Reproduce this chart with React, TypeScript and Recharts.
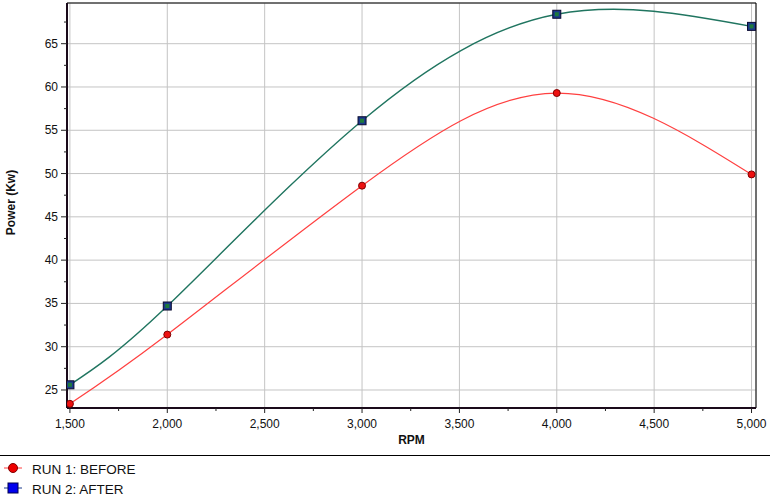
import {
  LineChart,
  Line,
  XAxis,
  YAxis,
  CartesianGrid,
  Legend,
  ReferenceArea,
  Label,
} from 'recharts';

// values
const rpm = [1500, 2000, 3000, 4000, 5000];
const runBefore = [23.4, 31.4, 48.6, 59.3, 49.9];
const runAfter = [25.6, 34.7, 56.1, 68.4, 67.0];

const xMajor = [1500, 2000, 2500, 3000, 3500, 4000, 4500, 5000];
const xMinor = [1750, 2250, 2750, 3250, 3750, 4250, 4750];
const yMajor = [25, 30, 35, 40, 45, 50, 55, 60, 65];
const yMinor = [27.5, 32.5, 37.5, 42.5, 47.5, 52.5, 57.5, 62.5, 67.5];

const xDomain: [number, number] = [1485, 5023];
const yDomain: [number, number] = [22.92, 69.7];

const chartData = rpm.map((r, i) => ({
  rpm: r,
  before: runBefore[i],
  after: runAfter[i],
}));

const XTick = (props: any) => {
  const { x, y, payload } = props;
  const major = payload.value % 500 === 0;
  return (
    <g>
      <line x1={x} x2={x} y1={y} y2={y + (major ? 5 : 3)} stroke="#222" />
      {major && (
        <text x={x} y={y + 20} textAnchor="middle" fontSize={12} fill="#111">
          {payload.value.toLocaleString('en-US')}
        </text>
      )}
    </g>
  );
};

const YTick = (props: any) => {
  const { x, y, payload } = props;
  const major = payload.value % 5 === 0;
  return (
    <g>
      <line x1={x - (major ? 6 : 3)} x2={x} y1={y} y2={y} stroke="#222" />
      {major && (
        <text x={x - 9} y={y + 4} textAnchor="end" fontSize={12} fill="#111">
          {payload.value}
        </text>
      )}
    </g>
  );
};

const SquareDot = (props: any) => {
  const { cx, cy } = props;
  if (cx == null || cy == null) return null;
  return (
    <g>
      <rect x={cx - 4} y={cy - 4} width={8} height={8} fill="#1b3a8c" stroke="#0a0a30" />
      <rect x={cx - 2} y={cy - 2} width={4} height={4} fill="#1e7a3c" />
    </g>
  );
};

const RoundDot = (props: any) => {
  const { cx, cy } = props;
  if (cx == null || cy == null) return null;
  return <circle cx={cx} cy={cy} r={3.5} fill="#ee1111" stroke="#800000" />;
};

const LegendBox = () => (
  <svg width={770} height={46} style={{ display: 'block' }}>
    <line x1={0} x2={770} y1={0.5} y2={0.5} stroke="#000" />
    <line x1={4} x2={22} y1={13} y2={13} stroke="#ff4040" />
    <circle cx={13} cy={13} r={4.5} fill="#ee0000" stroke="#800000" />
    <text x={32} y={19} fontSize={13.5} fill="#111">RUN 1: BEFORE</text>
    <line x1={4} x2={22} y1={33} y2={33} stroke="#1b3a8c" />
    <rect x={8} y={28} width={10} height={10} fill="#0000ee" stroke="#000050" />
    <text x={32} y={39} fontSize={13.5} fill="#111">RUN 2: AFTER</text>
  </svg>
);

export default function App() {
  return (
    <div
      style={{
        position: 'absolute',
        left: 0,
        top: 0,
        width: 770,
        height: 501,
        background: '#fff',
        fontFamily: '"Liberation Sans", Arial, sans-serif',
      }}
    >
      <LineChart
        width={770}
        height={501}
        data={chartData}
        margin={{ top: 3, right: 14, left: 0, bottom: 0 }}
      >
        <CartesianGrid xAxisId="grid" yAxisId="grid" stroke="#c4c4c4" />
        <XAxis
          xAxisId="x"
          dataKey="rpm"
          type="number"
          domain={xDomain}
          ticks={[...xMajor, ...xMinor].sort((a, b) => a - b)}
          allowDataOverflow
          interval={0}
          height={47}
          tickSize={0}
          tickMargin={0}
          tickLine={false}
          tick={<XTick />}
          axisLine={{ stroke: '#1a0a1a', strokeWidth: 2 }}
        >
          <Label
            content={({ viewBox }: any) => (
              <text
                x={viewBox.x + viewBox.width / 2}
                y={viewBox.y + 36}
                textAnchor="middle"
                fontSize={12}
                fontWeight="bold"
                fill="#111"
              >
                RPM
              </text>
            )}
          />
        </XAxis>
        <YAxis
          yAxisId="y"
          type="number"
          domain={yDomain}
          ticks={[...yMajor, ...yMinor].sort((a, b) => a - b)}
          allowDataOverflow
          interval={0}
          width={67}
          tickSize={0}
          tickMargin={0}
          tickLine={false}
          tick={<YTick />}
          axisLine={{ stroke: '#1a0a1a', strokeWidth: 2 }}
        >
          <Label
            content={({ viewBox }: any) => {
              const cy = viewBox.y + viewBox.height / 2 - 3;
              return (
                <text
                  x={15}
                  y={cy}
                  transform={`rotate(-90, 15, ${cy})`}
                  textAnchor="middle"
                  fontSize={12}
                  fontWeight="bold"
                  fill="#111"
                >
                  Power (Kw)
                </text>
              );
            }}
          />
        </YAxis>
        <XAxis
          xAxisId="grid"
          dataKey="rpm"
          type="number"
          domain={xDomain}
          ticks={xMajor}
          allowDataOverflow
          interval={0}
          height={0}
          hide
        />
        <YAxis
          yAxisId="grid"
          type="number"
          domain={yDomain}
          ticks={yMajor}
          allowDataOverflow
          interval={0}
          width={0}
          hide
        />
        <ReferenceArea
          xAxisId="x"
          yAxisId="y"
          x1={xDomain[0]}
          x2={xDomain[1]}
          y1={yDomain[0]}
          y2={yDomain[1]}
          fill="none"
          stroke="#000"
          ifOverflow="visible"
        />
        <Line
          xAxisId="x"
          yAxisId="y"
          type="natural"
          dataKey="before"
          name="RUN 1: BEFORE"
          stroke="#ff4040"
          strokeWidth={1.2}
          dot={<RoundDot />}
          activeDot={false}
          isAnimationActive={false}
        />
        <Line
          xAxisId="x"
          yAxisId="y"
          type="natural"
          dataKey="after"
          name="RUN 2: AFTER"
          stroke="#207560"
          strokeWidth={1.4}
          dot={<SquareDot />}
          activeDot={false}
          isAnimationActive={false}
        />
        <Legend
          verticalAlign="bottom"
          align="left"
          content={<LegendBox />}
          wrapperStyle={{ left: 0, width: 770, height: 46 }}
        />
      </LineChart>
    </div>
  );
}
